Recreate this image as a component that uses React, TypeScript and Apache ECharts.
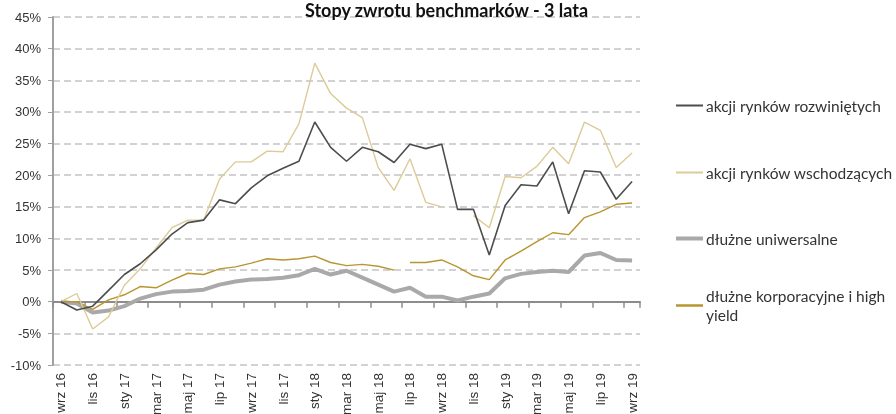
import React, { useEffect, useRef } from "react";
import * as echarts from "echarts";

const categories = [
  "wrz 16", "paź 16", "lis 16", "gru 16",
  "sty 17", "lut 17", "mar 17", "kwi 17", "maj 17", "cze 17", "lip 17", "sie 17", "wrz 17", "paź 17", "lis 17", "gru 17",
  "sty 18", "lut 18", "mar 18", "kwi 18", "maj 18", "cze 18", "lip 18", "sie 18", "wrz 18", "paź 18", "lis 18", "gru 18",
  "sty 19", "lut 19", "mar 19", "kwi 19", "maj 19", "cze 19", "lip 19", "sie 19", "wrz 19",
];

const developedEquities = [
  0, -1.3, -0.7, 1.8, 4.3, 6.0, 8.2, 10.7, 12.5, 12.9, 16.1, 15.5, 18.0, 19.9, 21.1, 22.2,
  28.4, 24.4, 22.2, 24.4, 23.7, 22.0, 24.9, 24.2, 24.9, 14.6, 14.6, 7.4, 15.2, 18.5, 18.3,
  22.1, 13.9, 20.7, 20.5, 16.2, 19.0,
];

const emergingEquities: (number | null)[] = [
  0, 1.3, -4.3, -2.4, 2.6, 5.2, 8.5, 11.7, 12.9, 12.9, 19.4, 22.1, 22.1, 23.8, 23.7, 28.1,
  37.7, 32.9, 30.6, 29.1, 21.2, 17.6, 22.6, 15.7, 15.0, null, 13.6, 11.7, 19.8, 19.6, 21.4,
  24.4, 21.8, 28.4, 27.1, 21.2, 23.5,
];

const universalBonds = [
  0, -0.3, -1.7, -1.4, -0.7, 0.5, 1.2, 1.6, 1.7, 1.9, 2.7, 3.2, 3.5, 3.6, 3.8, 4.2,
  5.2, 4.3, 4.9, 3.8, 2.7, 1.6, 2.2, 0.8, 0.8, 0.2, 0.8, 1.3, 3.7, 4.4, 4.7,
  4.9, 4.7, 7.3, 7.7, 6.6, 6.5,
];

const corporateBonds = [
  0, 0, -1.2, 0.3, 1.1, 2.4, 2.2, 3.4, 4.5, 4.3, 5.2, 5.5, 6.1, 6.8, 6.6, 6.8,
  7.2, 6.2, 5.7, 5.9, 5.6, 5.0, 6.2, 6.2, 6.6, 5.5, 4.1, 3.5, 6.6, 8.0, 9.5,
  10.9, 10.6, 13.3, 14.2, 15.4, 15.6,
];
// the corporate-bond line is broken between these two months
const corporateBreakAfter = 21;

const seriesNames = [
  "akcji rynków rozwiniętych",
  "akcji rynków wschodzących",
  "dłużne uniwersalne",
  "dłużne korporacyjne i high yield",
];

const yTicks = { min: -10, max: 45, interval: 5 };

export default function App() {
  const ref = useRef<HTMLDivElement>(null);

  useEffect(() => {
    if (!ref.current) return;
    const chart = echarts.init(ref.current, undefined, { renderer: "svg" });

    const corpA = corporateBonds.map((v, i) => (i <= corporateBreakAfter ? v : null));
    const corpB = corporateBonds.map((v, i) => (i > corporateBreakAfter ? v : null));

    const colors = ["#4d4d4d", "#dccb98", "#a9a9a9", "#b8952f"];
    const widths = [1.6, 1.4, 4, 1.4];
    const legendWidths = [2, 2, 4, 2.5];

    const legendCenters = [106, 173, 239, 306];
    const legends = seriesNames.map((n, i) => ({
      show: true,
      orient: "vertical",
      left: 676,
      top: i === 3 ? legendCenters[i] - 10 - 19 : legendCenters[i] - 10,
      padding: 0,
      icon: "rect",
      itemWidth: 27,
      itemHeight: legendWidths[i],
      itemGap: 4,
      data: [
        i === 3
          ? { name: n, textStyle: { padding: [19, 0, 0, -2] } }
          : { name: n },
      ],
      formatter: (name: string) =>
        name === seriesNames[3] ? "dłużne korporacyjne i high\nyield" : name,
      textStyle: {
        fontFamily: "Lato",
        fontSize: 15.5,
        color: "#333",
        lineHeight: 19,
        padding: [0, 0, 0, -2],
      },
      selectedMode: false,
    }));

    const mk = (name: string, data: (number | null)[], idx: number, z: number) => ({
      name,
      type: "line",
      data,
      symbol: "none",
      z,
      lineStyle: { color: colors[idx], width: widths[idx] },
      itemStyle: { color: colors[idx] },
      connectNulls: false,
    });

    chart.setOption({
      animation: false,
      title: {
        text: "Stopy zwrotu benchmarków - 3 lata",
        left: 305,
        top: 0,
        padding: 0,
        textStyle: {
          fontFamily: "Lato",
          fontSize: 18,
          fontWeight: "bold",
          color: "#111",
          lineHeight: 20,
        },
      },
      legend: legends,
      grid: {
        left: 53,
        right: 256,
        top: 17,
        bottom: 49,
        containLabel: false,
        outerBoundsMode: "none",
      },
      xAxis: {
        type: "category",
        data: categories,
        boundaryGap: true,
        axisLine: { onZero: true, lineStyle: { color: "#8c8c8c", width: 2 } },
        axisTick: {
          show: true,
          interval: 1,
          length: 6,
          lineStyle: { color: "#8c8c8c", width: 1.5 },
        },
        axisLabel: {
          interval: 1,
          rotate: 90,
          margin: 8,
          fontFamily: "Liberation Sans",
          fontSize: 13.5,
          color: "#333",
        },
        splitLine: { show: false },
      },
      yAxis: {
        type: "value",
        min: yTicks.min,
        max: yTicks.max,
        interval: yTicks.interval,
        axisLine: { show: true, lineStyle: { color: "#a0a0a0", width: 2 } },
        axisTick: { show: true, length: 5, lineStyle: { color: "#a0a0a0" } },
        axisLabel: {
          formatter: "{value}%",
          fontFamily: "Liberation Sans",
          fontSize: 13,
          color: "#333",
          margin: 12,
        },
        splitLine: {
          show: true,
          lineStyle: { color: "#c4c4c4", type: [7, 4], width: 1.5 },
        },
      },
      series: [
        mk(seriesNames[2], universalBonds, 2, 2),
        mk(seriesNames[3], corpA, 3, 3),
        mk(seriesNames[3], corpB, 3, 3),
        mk(seriesNames[1], emergingEquities, 1, 4),
        mk(seriesNames[0], developedEquities, 0, 5),
      ],
    });

    return () => chart.dispose();
  }, []);

  return (
    <div
      ref={ref}
      style={{ position: "fixed", left: 0, top: 0, width: 896, height: 414 }}
    />
  );
}
